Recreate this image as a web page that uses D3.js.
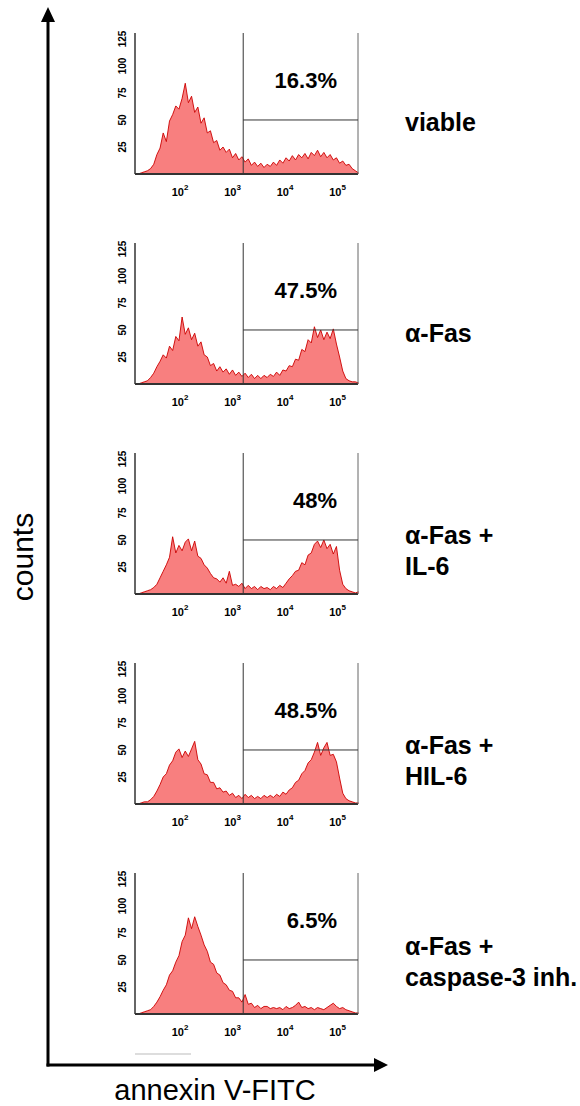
<!DOCTYPE html>
<html>
<head>
<meta charset="utf-8">
<script src="https://cdn.jsdelivr.net/npm/d3@7"></script>
<style>
  body { margin: 0; background: #fff; }
  svg { display: block; font-family: Arial, "Liberation Sans", sans-serif; }
</style>
</head>
<body>
<div id="chart"></div>
<script>
// annexin V-FITC histograms, one per treatment
const conditions = [
    ["viable"],
    ["α-Fas"],
    ["α-Fas +", "IL-6"],
    ["α-Fas +", "HIL-6"],
    ["α-Fas +", "caspase-3 inh."]
];
const gatedPercent = ["16.3%", "47.5%", "48%", "48.5%", "6.5%"];

// gate: annexin > gateMin, drawn at gateCount
const gateMin = 1600;
const gateCount = 50;

const yTicks = [25, 50, 75, 100, 125];
const xTickExponents = [2, 3, 4, 5];

// channels are log10 of fluorescence, 1.20 .. 5.40 in steps of 0.06
const channelStart = 1.2;
const channelStep = 0.06;

const countsViable = [0, 1, 2, 3, 5, 9, 18, 24, 38, 30, 49, 55, 63, 60, 70, 84, 66, 72, 57, 62,
    47, 52, 38, 40, 29, 31, 22, 25, 20, 23, 15, 19, 13, 16, 11, 14, 8, 11, 7, 10,
    6, 9, 7, 11, 8, 13, 10, 15, 12, 17, 13, 18, 15, 19, 14, 20, 17, 22, 16, 20,
    15, 18, 13, 15, 10, 12, 8, 9, 5, 3, 1];
const countsFas = [0, 1, 2, 3, 6, 10, 16, 21, 27, 24, 35, 31, 44, 40, 62, 46, 52, 41, 47, 35,
    39, 27, 25, 17, 19, 12, 16, 11, 14, 9, 13, 8, 11, 7, 10, 6, 9, 5, 8, 5,
    8, 6, 9, 7, 11, 8, 13, 12, 17, 16, 23, 22, 32, 30, 41, 38, 53, 43, 50, 41,
    48, 42, 51, 37, 25, 12, 5, 3, 2, 2, 1];
const countsFasIL6 = [0, 1, 2, 3, 4, 6, 9, 15, 21, 27, 34, 53, 38, 45, 40, 48, 51, 40, 49, 35,
    33, 27, 24, 19, 15, 14, 11, 15, 10, 21, 8, 9, 7, 10, 5, 8, 5, 7, 4, 7,
    5, 6, 4, 7, 5, 8, 6, 10, 14, 17, 21, 22, 29, 27, 36, 38, 46, 49, 43, 50,
    42, 46, 37, 44, 22, 9, 5, 3, 2, 1, 2];
const countsFasHIL6 = [0, 1, 2, 2, 4, 7, 12, 18, 25, 28, 36, 40, 48, 51, 43, 49, 44, 51, 58, 41,
    37, 28, 27, 20, 20, 14, 15, 11, 12, 8, 10, 6, 8, 5, 9, 6, 8, 5, 7, 5,
    8, 6, 8, 6, 9, 7, 11, 9, 13, 15, 20, 22, 28, 31, 38, 41, 48, 57, 45, 52,
    57, 45, 46, 39, 24, 10, 5, 3, 2, 1, 1];
const countsFasCasp = [0, 1, 2, 3, 4, 7, 11, 16, 22, 27, 36, 40, 48, 54, 67, 73, 89, 79, 90, 81,
    73, 64, 58, 48, 46, 38, 36, 29, 27, 22, 21, 15, 15, 11, 18, 9, 10, 6, 8, 5,
    7, 7, 5, 6, 5, 6, 4, 7, 5, 6, 8, 11, 6, 7, 5, 6, 4, 6, 5, 4,
    6, 8, 10, 7, 5, 6, 4, 3, 2, 1, 1];

const histograms = [countsViable, countsFas, countsFasIL6, countsFasHIL6, countsFasCasp];

const width = 580;
const height = 1106;
const panelLeft = 135;
const panelRight = 358;
const firstBaseline = 174;
const panelStep = 210;
const panelHeight = 141;
// baseline offset of the first condition line, per panel
const conditionTop = [-43, -42, -50, -50, -59];

const svg = d3.select("#chart").append("svg")
    .attr("width", width)
    .attr("height", height);

const x = d3.scaleLog()
    .domain([Math.pow(10, 2 - 45 / 52.5), Math.pow(10, 2 + 178 / 52.5)])
    .range([panelLeft, panelRight]);

const y = d3.scaleLinear()
    .domain([0, 130.5])
    .range([panelHeight, 0]);

const channel = i => Math.pow(10, channelStart + channelStep * i);

const area = d3.area()
    .x((d, i) => x(channel(i)))
    .y0(y(0))
    .y1(d => y(d));

const outline = d3.line()
    .x((d, i) => x(channel(i)))
    .y(d => y(d));

const panels = svg.selectAll("g.panel")
    .data(histograms)
    .join("g")
    .attr("class", "panel")
    .attr("transform", (d, i) => `translate(0,${firstBaseline + i * panelStep - panelHeight})`);

panels.append("path")
    .attr("d", d => area(d))
    .attr("fill", "#f87f7f");

panels.append("path")
    .attr("d", d => outline(d))
    .attr("fill", "none")
    .attr("stroke", "#cc0000")
    .attr("stroke-width", 0.9);

// frame: left + bottom axis, right border
panels.append("line")
    .attr("x1", panelLeft).attr("x2", panelLeft)
    .attr("y1", 0).attr("y2", y(0))
    .attr("stroke", "#333").attr("stroke-width", 1.5);
panels.append("line")
    .attr("x1", panelLeft).attr("x2", panelRight)
    .attr("y1", y(0)).attr("y2", y(0))
    .attr("stroke", "#333").attr("stroke-width", 2);
panels.append("line")
    .attr("x1", panelRight).attr("x2", panelRight)
    .attr("y1", 0).attr("y2", y(0))
    .attr("stroke", "#666").attr("stroke-width", 1);

// gate
panels.append("line")
    .attr("x1", x(gateMin)).attr("x2", x(gateMin))
    .attr("y1", 0).attr("y2", y(0))
    .attr("stroke", "#333").attr("stroke-width", 1);
panels.append("line")
    .attr("x1", x(gateMin)).attr("x2", panelRight)
    .attr("y1", y(gateCount)).attr("y2", y(gateCount))
    .attr("stroke", "#333").attr("stroke-width", 1);

panels.append("text")
    .attr("x", 337)
    .attr("y", y(0) - 86)
    .attr("text-anchor", "end")
    .style("font-size", "22px")
    .style("font-weight", "bold")
    .text((d, i) => gatedPercent[i]);

// y ticks, rotated
panels.selectAll("text.ytick")
    .data(yTicks)
    .join("text")
    .attr("class", "ytick")
    .attr("transform", t => `translate(122,${y(t)}) rotate(-90)`)
    .attr("text-anchor", "middle")
    .attr("dy", "0.35em")
    .style("font-size", "10px")
    .style("font-weight", "bold")
    .text(t => t);

// x ticks: 10^n
const xt = panels.selectAll("text.xtick")
    .data(xTickExponents)
    .join("text")
    .attr("class", "xtick")
    .attr("x", e => x(Math.pow(10, e)))
    .attr("y", y(0) + 22)
    .attr("text-anchor", "middle")
    .style("font-size", "11px")
    .style("font-weight", "bold");
xt.append("tspan").text("10");
xt.append("tspan")
    .attr("dy", -6)
    .style("font-size", "8px")
    .text(e => e);

// condition labels
panels.each(function (d, i) {
    d3.select(this).selectAll("text.cond")
        .data(conditions[i])
        .join("text")
        .attr("class", "cond")
        .attr("x", 405)
        .attr("y", (l, k) => y(0) + conditionTop[i] + k * 31)
        .style("font-size", "25px")
        .style("font-weight", "bold")
        .text(l => l);
});

// big axis arrows
const axisX = 48;
const axisY = 1065;
svg.append("line")
    .attr("x1", axisX).attr("x2", axisX)
    .attr("y1", 20).attr("y2", axisY + 1.5)
    .attr("stroke", "#000").attr("stroke-width", 3);
svg.append("path")
    .attr("d", `M${axisX},7 L${axisX - 7},22 L${axisX + 7},22 Z`)
    .attr("fill", "#000");
svg.append("line")
    .attr("x1", axisX - 1.5).attr("x2", 376)
    .attr("y1", axisY).attr("y2", axisY)
    .attr("stroke", "#000").attr("stroke-width", 3);
svg.append("path")
    .attr("d", `M388,${axisY} L374,${axisY - 7} L374,${axisY + 7} Z`)
    .attr("fill", "#000");

svg.append("line")
    .attr("x1", 135).attr("x2", 191)
    .attr("y1", 1054).attr("y2", 1054)
    .attr("stroke", "#bbb").attr("stroke-width", 1);

svg.append("text")
    .attr("x", 215)
    .attr("y", 1100)
    .attr("text-anchor", "middle")
    .style("font-size", "29px")
    .text("annexin V-FITC");

svg.append("text")
    .attr("transform", "translate(33,557) rotate(-90)")
    .attr("text-anchor", "middle")
    .style("font-size", "30px")
    .text("counts");
</script>
</body>
</html>
